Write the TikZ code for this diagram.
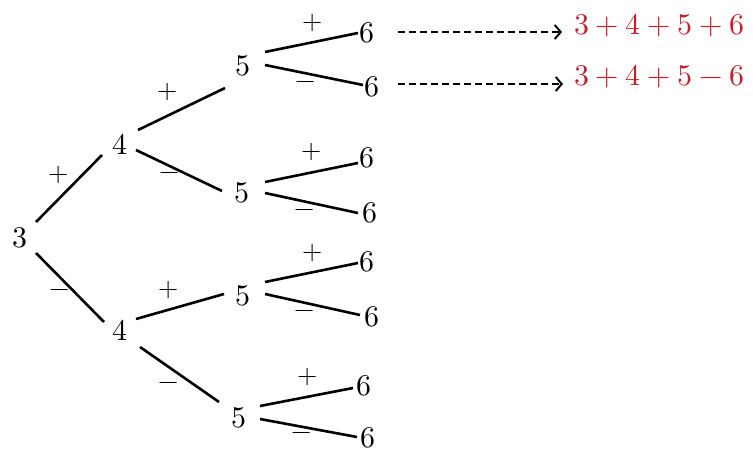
\documentclass[tikz,border=0pt]{standalone}
\usepackage{unicode-math}
\setmathfont{Latin Modern Math}
\usetikzlibrary{arrows.meta}
\definecolor{exprred}{RGB}{196,32,44}
\begin{document}
\begin{tikzpicture}[x=1pt,y=-1pt,
  num/.style={inner sep=0pt,font=\fontsize{30}{32}\selectfont},
  sgn/.style={inner sep=0pt,font=\fontsize{26}{28}\selectfont},
  branch/.style={line width=2.6pt},
  dasharrow/.style={line width=1.9pt,dash pattern=on 7pt off 4pt,-{Straight Barb[length=6pt,width=14pt,line width=1.9pt]}},
  expr/.style={inner sep=0pt,anchor=west,text=exprred,font=\fontsize{30}{32}\selectfont}]
\useasboundingbox (0,0) rectangle (753,454);
% numbers
\node[num] (n3) at (20,238) {$3$};
\node[num] (n4a) at (120,144) {$4$};
\node[num] (n4b) at (120,330) {$4$};
\node[num] (n5a) at (243,66) {$5$};
\node[num] (n5b) at (242,193) {$5$};
\node[num] (n5c) at (243,296) {$5$};
\node[num] (n5d) at (239,418) {$5$};
\node[num] (n6a) at (367,33) {$6$};
\node[num] (n6b) at (372,87) {$6$};
\node[num] (n6c) at (367,158) {$6$};
\node[num] (n6d) at (370,213) {$6$};
\node[num] (n6e) at (367,262) {$6$};
\node[num] (n6f) at (372,317) {$6$};
\node[num] (n6g) at (364,386) {$6$};
\node[num] (n6h) at (368,438) {$6$};
% branches
\draw[branch] ([shift={(16,-16)}]n3.center) -- ([shift={(-18,11)}]n4a.center);
\draw[branch] ([shift={(16,15)}]n3.center) -- ([shift={(-16,-8)}]n4b.center);
\draw[branch] ([shift={(18,-14)}]n4a.center) -- ([shift={(-18,22)}]n5a.center);
\draw[branch] ([shift={(16,6)}]n4a.center) -- ([shift={(-20,-2)}]n5b.center);
\draw[branch] ([shift={(16,-11)}]n4b.center) -- ([shift={(-19,-2)}]n5c.center);
\draw[branch] ([shift={(20,17)}]n4b.center) -- ([shift={(-20,-16)}]n5d.center);
\draw[branch] ([shift={(22,-14)}]n5a.center) -- ([shift={(-9,0)}]n6a.center);
\draw[branch] ([shift={(22,-1)}]n5a.center) -- ([shift={(-9,-2)}]n6b.center);
\draw[branch] ([shift={(23,-11)}]n5b.center) -- ([shift={(-9,5)}]n6c.center);
\draw[branch] ([shift={(23,0)}]n5b.center) -- ([shift={(-12,0)}]n6d.center);
\draw[branch] ([shift={(22,-14)}]n5c.center) -- ([shift={(-9,1)}]n6e.center);
\draw[branch] ([shift={(22,-2)}]n5c.center) -- ([shift={(-12,-2)}]n6f.center);
\draw[branch] ([shift={(21,-12)}]n5d.center) -- ([shift={(-11,2)}]n6g.center);
\draw[branch] ([shift={(21,1)}]n5d.center) -- ([shift={(-11,-1)}]n6h.center);
% signs
\node[sgn] (s1) at (59,175) {$+$};
\node[sgn] (s2) at (60,293) {$-$};
\node[sgn] (s3) at (168,92) {$+$};
\node[sgn] (s4) at (170,176) {$-$};
\node[sgn] (s5) at (169,290) {$+$};
\node[sgn] (s6) at (169,386) {$-$};
\node[sgn] (s7) at (313,23) {$+$};
\node[sgn] (s8) at (306,85) {$-$};
\node[sgn] (s9) at (312,152) {$+$};
\node[sgn] (s10) at (305,213) {$-$};
\node[sgn] (s11) at (313,253) {$+$};
\node[sgn] (s12) at (305,314) {$-$};
\node[sgn] (s13) at (308,377) {$+$};
\node[sgn] (s14) at (302,436) {$-$};
% expressions
\node[expr] (e1) at (574,26) {$3+4+5+6$};
\node[expr] (e2) at (574,77) {$3+4+5-6$};
\draw[dasharrow] ([shift={(31,-1)}]n6a.center) -- ([shift={(-12,6)}]e1.west);
\draw[dasharrow] ([shift={(26,-3)}]n6b.center) -- ([shift={(-11,7)}]e2.west);
\end{tikzpicture}
\end{document}
